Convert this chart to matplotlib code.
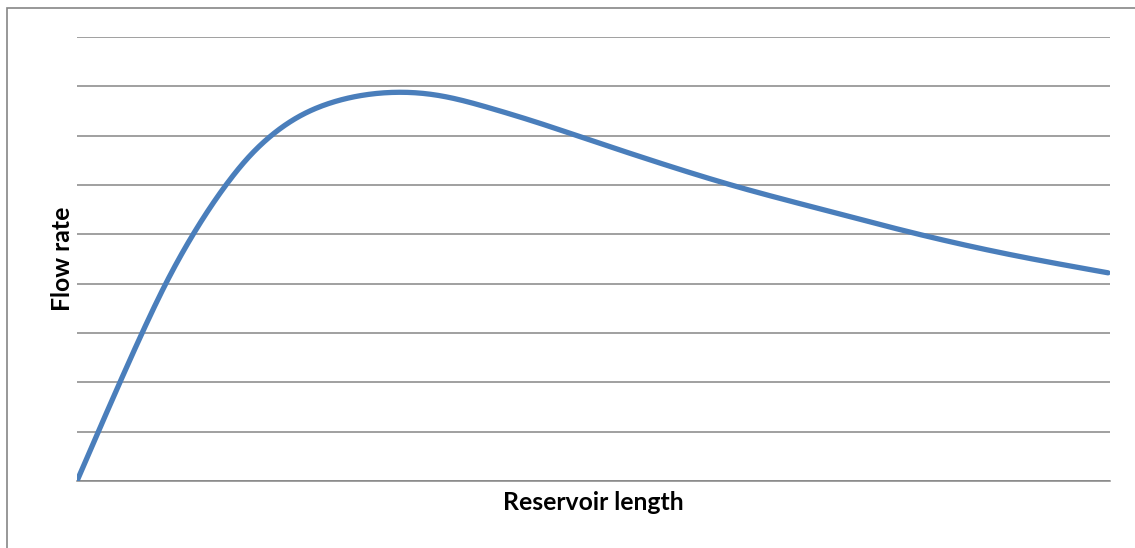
import matplotlib.pyplot as plt
from matplotlib.patches import Rectangle
import numpy as np

# Flow rate vs reservoir length (unitless, values read on a 0-9 grid)
length = [0, 4.26, 6.39, 8.52, 11.33, 14.42, 16.55, 18.68, 21.59, 24.49, 27.40,
          30.30, 32.72, 35.14, 37.56, 39.98, 44.82, 48.69, 55.76, 63.50,
          72.41, 81.32, 90.32, 99.81]
flow = [0, 2.05, 3.04, 3.97, 5.03, 6.00, 6.55, 6.98, 7.40, 7.66, 7.81,
        7.875, 7.87, 7.81, 7.70, 7.56, 7.25, 6.98, 6.49, 5.99,
        5.49, 5.01, 4.59, 4.22]

grid_color = '#868686'
line_color = '#4A7EBB'


def natural_spline(x, y, xs):
    # natural cubic spline through the given points
    x = np.asarray(x, float)
    y = np.asarray(y, float)
    n = len(x)
    h = np.diff(x)
    A = np.zeros((n, n))
    b = np.zeros(n)
    A[0, 0] = A[-1, -1] = 1
    for i in range(1, n - 1):
        A[i, i - 1] = h[i - 1]
        A[i, i] = 2 * (h[i - 1] + h[i])
        A[i, i + 1] = h[i]
        b[i] = 6 * ((y[i + 1] - y[i]) / h[i] - (y[i] - y[i - 1]) / h[i - 1])
    M = np.linalg.solve(A, b)
    idx = np.clip(np.searchsorted(x, xs) - 1, 0, n - 2)
    hi = h[idx]
    a = x[idx + 1] - xs
    c = xs - x[idx]
    return (M[idx] * a**3 / (6 * hi) + M[idx + 1] * c**3 / (6 * hi)
            + (y[idx] / hi - M[idx] * hi / 6) * a
            + (y[idx + 1] / hi - M[idx + 1] * hi / 6) * c)


fig = plt.figure(figsize=(11.35, 5.48), dpi=100)
ax = fig.add_axes([77 / 1135, 67 / 548, 1033 / 1135, 444 / 548])

xs = np.linspace(0, length[-1], 800)
ys = natural_spline(length, flow, xs)
ax.plot(xs, ys, color=line_color, lw=3.8, solid_capstyle='round', zorder=3)

ax.set_xlim(0, 100)
ax.set_ylim(0, 9)
ax.set_yticks(range(10))
ax.set_xticks([])
ax.yaxis.grid(True, color=grid_color, lw=1.1)
ax.tick_params(axis='y', length=0, labelleft=False)
for side in ['top', 'right', 'left']:
    ax.spines[side].set_visible(False)
ax.spines['bottom'].set_color(grid_color)
ax.spines['bottom'].set_linewidth(1.1)

font = dict(family='Lato', weight='bold', fontsize=17.8)
ax.set_xlabel('Reservoir length', labelpad=7, **font)
ax.set_ylabel('Flow rate', labelpad=2, **font)

# chart border
fig.patches.append(Rectangle((7 / 1135, -0.1), 1.2, 0.1 + 540 / 548,
                             transform=fig.transFigure, fill=False,
                             edgecolor=grid_color, lw=1.2))

fig.savefig('out.png', dpi=100)
